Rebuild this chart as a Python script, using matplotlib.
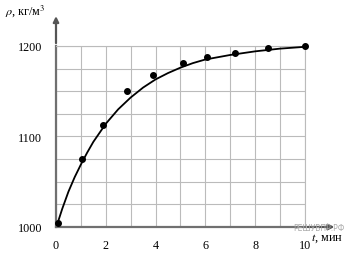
import matplotlib
matplotlib.use("Agg")
import matplotlib.pyplot as plt

# measured points
t_pts = [0.1, 1.05, 1.88, 2.85, 3.9, 5.1, 6.05, 7.2, 8.53, 10.0]
rho_pts = [1004, 1075, 1113, 1150, 1168, 1181, 1188, 1192, 1198, 1200]

# smooth curve
t_curve = [0.05, 0.25, 0.5, 0.75, 1.0, 1.25, 1.5, 1.75, 2.0, 2.5, 3.0, 3.5, 4.0,
           4.5, 5.0, 5.5, 6.0, 7.0, 8.0, 9.0, 10.0]
rho_curve = [1003, 1020, 1039, 1055, 1069, 1082, 1094, 1104, 1114, 1130, 1143, 1154, 1163,
             1170, 1176, 1181, 1185, 1190, 1194, 1197, 1199]

x_ticks = [0, 2, 4, 6, 8, 10]
y_ticks = [1000, 1100, 1200]

plt.rcParams['font.family'] = ['Liberation Serif', 'DejaVu Serif']
plt.rcParams['mathtext.fontset'] = 'stix'

fig = plt.figure(figsize=(3.5, 2.55), dpi=100)
ax = fig.add_axes([0.16, 0.106, 0.711, 0.71])
ax.set_xlim(0, 10)
ax.set_ylim(1000, 1200)

ax.set_xticks(x_ticks)
ax.set_xticks(range(0, 11), minor=True)
ax.set_yticks(y_ticks)
ax.set_yticks(range(1000, 1201, 25), minor=True)
ax.grid(True, which='both', color='#bbbbbb', linewidth=0.8)
ax.tick_params(which='both', length=0, labelsize=8.7, pad=9)
ax.tick_params(axis='y', pad=10)

for s in ['top', 'right']:
    ax.spines[s].set_color('#bbbbbb')
    ax.spines[s].set_linewidth(0.8)
for s in ['left', 'bottom']:
    ax.spines[s].set_color('#707070')
    ax.spines[s].set_linewidth(1.6)

ax.plot(t_curve, rho_curve, color='black', linewidth=1.3, zorder=3, clip_on=False)
ax.plot(t_pts, rho_pts, 'o', color='black', markersize=4, zorder=4, clip_on=False)

# axis arrows
ax.annotate('', xy=(0, 1.18), xytext=(0, 1.0), xycoords='axes fraction',
            arrowprops=dict(arrowstyle='-|>', color='#555555', lw=1.6, mutation_scale=8))
ax.annotate('', xy=(1.13, 0), xytext=(1.0, 0), xycoords='axes fraction',
            arrowprops=dict(arrowstyle='-|>', color='#555555', lw=1.6, mutation_scale=8))

fig.text(0.015, 0.955, r'$\rho$, кг/м$^3$', fontsize=8.7, ha='left', va='center')
fig.text(0.98, 0.065, r'$t$, мин', fontsize=8.7, ha='right', va='center')
fig.text(0.985, 0.105, 'РЕШУВПР.РФ', fontsize=5.5, color='#aaaaaa', ha='right', va='center',
         family=['DejaVu Sans'])

fig.savefig('out.png', dpi=100)
